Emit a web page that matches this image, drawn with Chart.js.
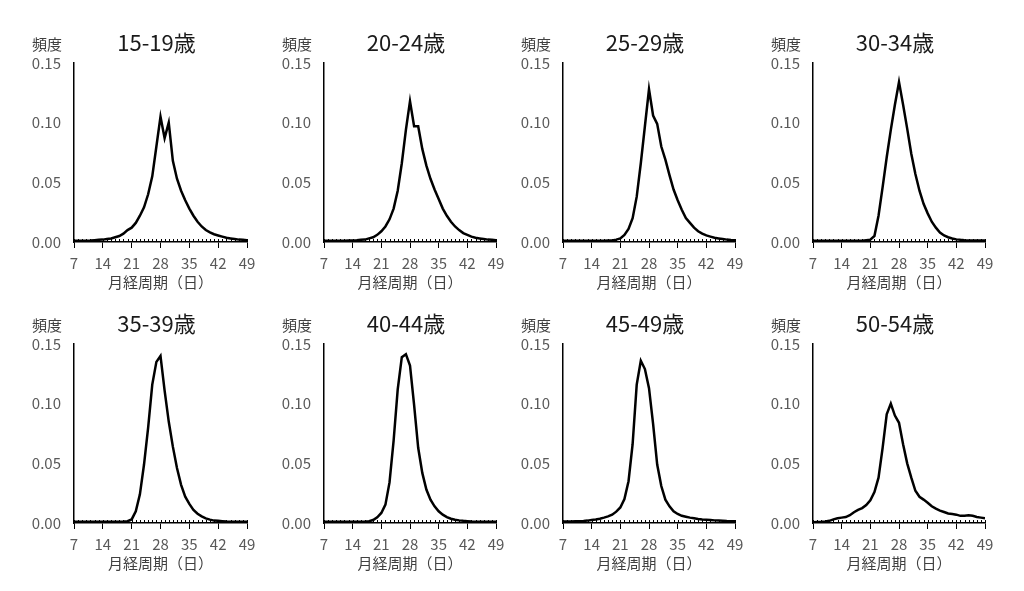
<!DOCTYPE html>
<html>
<head>
<meta charset="utf-8">
<script src="https://cdn.jsdelivr.net/npm/chart.js@4.4.0/dist/chart.umd.min.js"></script>
<style>
  body { margin: 0; background: #fff; width: 1024px; height: 591px; position: relative; overflow: hidden; }
  .panel { position: absolute; }
</style>
</head>
<body>
<script>
// cycle length in days (x categories)
const days = [7, 8, 9, 10, 11, 12, 13, 14, 15, 16, 17, 18, 19, 20, 21, 22, 23, 24, 25, 26, 27, 28,
  29, 30, 31, 32, 33, 34, 35, 36, 37, 38, 39, 40, 41, 42, 43, 44, 45, 46, 47, 48, 49];

const ageGroups = ["15-19歳", "20-24歳", "25-29歳", "30-34歳", "35-39歳", "40-44歳", "45-49歳", "50-54歳"];

// frequency, one value per day 7..49
const freq15to19 = [0.001, 0.001, 0.001, 0.001, 0.0012, 0.0015, 0.0018, 0.002, 0.0025, 0.003, 0.004, 0.005, 0.007, 0.010,
  0.012, 0.016, 0.022, 0.029, 0.040, 0.055, 0.080, 0.105, 0.087, 0.100, 0.068, 0.053, 0.043, 0.035, 0.028, 0.022,
  0.017, 0.013, 0.010, 0.008, 0.0065, 0.0055, 0.0045, 0.0035, 0.003, 0.0025, 0.002, 0.0018, 0.0015];
const freq20to24 = [0.001, 0.001, 0.001, 0.001, 0.001, 0.001, 0.0012, 0.0013, 0.0015, 0.0018, 0.002, 0.003, 0.004, 0.006,
  0.009, 0.013, 0.019, 0.028, 0.043, 0.066, 0.094, 0.118, 0.097, 0.097, 0.078, 0.064, 0.053, 0.044, 0.036, 0.028,
  0.022, 0.017, 0.013, 0.010, 0.0075, 0.006, 0.0045, 0.0035, 0.003, 0.0025, 0.002, 0.0018, 0.0015];
const freq25to29 = [0.001, 0.001, 0.001, 0.001, 0.001, 0.001, 0.001, 0.001, 0.001, 0.001, 0.001, 0.0012, 0.0013, 0.002,
  0.003, 0.006, 0.011, 0.020, 0.038, 0.066, 0.097, 0.128, 0.106, 0.099, 0.080, 0.069, 0.056, 0.044, 0.035, 0.027,
  0.020, 0.016, 0.012, 0.009, 0.007, 0.0055, 0.0045, 0.0035, 0.003, 0.0025, 0.002, 0.0017, 0.0015];
const freq30to34 = [0.001, 0.001, 0.001, 0.001, 0.001, 0.001, 0.001, 0.001, 0.001, 0.001, 0.001, 0.001, 0.001, 0.0015,
  0.002, 0.005, 0.022, 0.046, 0.071, 0.094, 0.115, 0.134, 0.115, 0.095, 0.074, 0.057, 0.043, 0.032, 0.024, 0.017,
  0.012, 0.008, 0.0055, 0.004, 0.003, 0.0022, 0.0018, 0.0015, 0.0013, 0.0012, 0.0012, 0.0012, 0.0012];
const freq35to39 = [0.001, 0.001, 0.001, 0.001, 0.001, 0.001, 0.001, 0.001, 0.001, 0.001, 0.001, 0.001, 0.0012, 0.0015,
  0.003, 0.0098, 0.024, 0.049, 0.080, 0.116, 0.135, 0.140, 0.111, 0.085, 0.064, 0.046, 0.032, 0.022, 0.016, 0.011,
  0.0078, 0.0056, 0.0039, 0.0028, 0.002, 0.0018, 0.0015, 0.0012, 0.001, 0.001, 0.001, 0.001, 0.001];
const freq40to44 = [0.001, 0.001, 0.001, 0.001, 0.001, 0.001, 0.001, 0.001, 0.001, 0.001, 0.0012, 0.0015, 0.0025, 0.0048,
  0.0084, 0.0154, 0.034, 0.069, 0.112, 0.139, 0.1415, 0.132, 0.099, 0.063, 0.042, 0.028, 0.0196, 0.014, 0.0098, 0.007,
  0.005, 0.0036, 0.0028, 0.0022, 0.0018, 0.0015, 0.0012, 0.001, 0.001, 0.001, 0.001, 0.001, 0.001];
const freq45to49 = [0.0012, 0.0012, 0.0013, 0.0014, 0.0015, 0.0017, 0.002, 0.0025, 0.003, 0.0036, 0.0045, 0.0055, 0.007, 0.0095,
  0.013, 0.020, 0.035, 0.066, 0.116, 0.136, 0.129, 0.113, 0.083, 0.049, 0.031, 0.0196, 0.014, 0.0098, 0.0076, 0.006,
  0.0053, 0.0045, 0.004, 0.0034, 0.003, 0.0028, 0.0025, 0.0022, 0.002, 0.0018, 0.0016, 0.0015, 0.0015];
const freq50to54 = [0.0006, 0.0008, 0.001, 0.0013, 0.0018, 0.003, 0.004, 0.0045, 0.005, 0.0065, 0.009, 0.011, 0.0125, 0.015,
  0.019, 0.026, 0.038, 0.063, 0.091, 0.100, 0.090, 0.084, 0.066, 0.050, 0.038, 0.027, 0.022, 0.0196, 0.017, 0.014,
  0.012, 0.0104, 0.0092, 0.008, 0.0076, 0.007, 0.006, 0.006, 0.0064, 0.006, 0.005, 0.0045, 0.004];

const allSeries = [freq15to19, freq20to24, freq25to29, freq30to34, freq35to39, freq40to44, freq45to49, freq50to54];

const xTickValues = [7, 14, 21, 28, 35, 42, 49];
const yTickValues = [0, 0.05, 0.10, 0.15];
const xTitle = "月経周期（日）";
const yTitle = "頻度";

// plot area of each small chart on the page
const colEdges = [[74, 247], [324, 496], [563, 735], [813, 985]];
const rowEdges = [[63, 242], [344, 523]];

const FONT = '"Noto Sans CJK JP", "Noto Sans", sans-serif';
const LEFT = 60, TOP = 45, RIGHT = 20, BOTTOM = 58;

// panel title, y label and the small day ticks above the axis
const panelDecor = {
  id: "panelDecor",
  afterDraw(chart) {
    const { ctx, chartArea } = chart;
    const xs = chart.scales.x;
    ctx.save();
    ctx.strokeStyle = "#000";
    ctx.lineWidth = 1;
    xs.ticks.forEach((t) => {
      const px = Math.round(xs.getPixelForValue(t.value)) + 0.5;
      ctx.beginPath();
      ctx.moveTo(px, chartArea.bottom - 3);
      ctx.lineTo(px, chartArea.bottom);
      ctx.stroke();
    });

    ctx.fillStyle = "#1a1a1a";
    ctx.font = "22px " + FONT;
    ctx.textAlign = "center";
    ctx.textBaseline = "middle";
    ctx.fillText(chart.options.plugins.panelDecor.title, (chartArea.left + chartArea.right) / 2 - 4, chartArea.top - 20);

    ctx.fillStyle = "#404040";
    ctx.font = "15px " + FONT;
    ctx.textAlign = "right";
    ctx.fillText(yTitle, chartArea.left - 12, chartArea.top - 19);
    ctx.restore();
  },
};

ageGroups.forEach((name, i) => {
  const [x0, x1] = colEdges[i % 4];
  const [y0, y1] = rowEdges[Math.floor(i / 4)];
  const w = LEFT + (x1 - x0) + RIGHT;
  const h = TOP + (y1 - y0) + BOTTOM;

  const box = document.createElement("div");
  box.className = "panel";
  box.style.left = x0 - LEFT + "px";
  box.style.top = y0 - TOP + "px";
  const canvas = document.createElement("canvas");
  canvas.width = w;
  canvas.height = h;
  box.appendChild(canvas);
  document.body.appendChild(box);

  const values = allSeries[i];
  new Chart(canvas.getContext("2d"), {
    type: "line",
    data: {
      datasets: [{
        data: days.map((d, k) => ({ x: d, y: values[k] })),
        borderColor: "#000",
        borderWidth: 2.5,
        pointRadius: 0,
        tension: 0,
        fill: false,
      }],
    },
    options: {
      responsive: false,
      animation: false,
      devicePixelRatio: 1,
      layout: { padding: { left: 0, top: TOP, right: RIGHT, bottom: 0 } },
      plugins: {
        legend: { display: false },
        tooltip: { enabled: false },
        panelDecor: { title: name },
      },
      scales: {
        x: {
          type: "linear",
          min: 7,
          max: 49,
          afterFit: (s) => { s.height = BOTTOM; },
          afterBuildTicks: (s) => { s.ticks = days.map((d) => ({ value: d })); },
          ticks: {
            autoSkip: false,
            maxRotation: 0,
            padding: 6,
            color: "#595959",
            font: { family: FONT, size: 15 },
            callback: (v) => (xTickValues.includes(v) ? String(v) : ""),
          },
          grid: {
            drawOnChartArea: false,
            drawTicks: true,
            tickLength: 6,
            tickWidth: 1,
            tickColor: (c) => (c.tick && xTickValues.includes(c.tick.value) ? "#000" : "rgba(0,0,0,0)"),
          },
          border: { display: true, color: "#000", width: 1.5 },
          title: {
            display: true,
            text: xTitle,
            color: "#404040",
            font: { family: FONT, size: 15 },
            padding: { top: 0, bottom: 9 },
          },
        },
        y: {
          min: 0,
          max: 0.15,
          afterFit: (s) => { s.width = LEFT; },
          afterBuildTicks: (s) => { s.ticks = yTickValues.map((v) => ({ value: v })); },
          ticks: {
            padding: 13,
            color: "#595959",
            font: { family: FONT, size: 15 },
            callback: (v) => v.toFixed(2),
          },
          grid: { display: false, drawTicks: false },
          border: { display: true, color: "#000", width: 1.5 },
        },
      },
    },
    plugins: [panelDecor],
  });
});
</script>
</body>
</html>
